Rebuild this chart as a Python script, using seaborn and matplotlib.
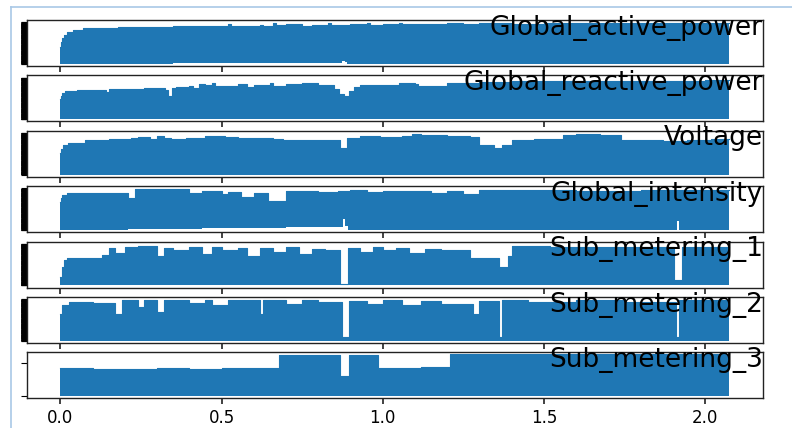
import numpy as np
import pandas as pd
import matplotlib
matplotlib.use("Agg")
import matplotlib.pyplot as plt
from matplotlib.lines import Line2D
import seaborn as sns

# ---------------- data ----------------
# x in millions of samples; panels 1-6 are categorical (percent of category range),
# panel 7 in watt-hours.
names = ["Global_active_power", "Global_reactive_power", "Voltage",
         "Global_intensity", "Sub_metering_1", "Sub_metering_2", "Sub_metering_3"]

gap_x = [0, 0.002, 0.005, 0.01, 0.02, 0.04, 0.07, 0.12, 0.18, 0.25, 0.35, 0.44, 0.52, 0.53,
         0.55, 0.62, 0.63, 0.66, 0.67, 0.70, 0.74, 0.75, 0.78, 0.83, 0.84, 0.86, 0.90, 0.95,
         0.96, 1.00, 1.05, 1.06, 1.08, 1.12, 1.20, 1.25, 1.30, 1.40, 1.50, 1.60, 1.70, 1.80,
         1.90, 2.00, 2.075]
gap_top = [41, 52, 62, 70, 77, 82, 85, 87, 89, 89, 90, 92, 95, 91, 92, 94, 90, 98, 93, 95,
           96, 92, 94, 98, 93, 94, 95, 97, 93, 95, 99, 95, 96, 96, 97, 95, 97, 96, 97, 98,
           97, 98, 98, 99, 99]
gap_low_x = [0, 0.866, 0.874, 0.882, 0.890, 2.075]
gap_low = [0, 3, 6, 4, 0, 0]

grp_x = [0, 0.002, 0.006, 0.015, 0.05, 0.10, 0.14, 0.15, 0.20, 0.26, 0.30, 0.325, 0.335,
         0.345, 0.36, 0.40, 0.41, 0.43, 0.45, 0.47, 0.48, 0.50, 0.55, 0.58, 0.60, 0.65,
         0.66, 0.70, 0.75, 0.80, 0.85, 0.865, 0.88, 0.895, 0.91, 0.93, 1.00, 1.05, 1.10,
         1.11, 1.20, 1.30, 1.40, 1.50, 1.60, 1.80, 2.00, 2.075]
grp_top = [48, 56, 64, 68, 70, 71, 66, 72, 72, 74, 75, 70, 56, 74, 78, 80, 74, 84, 82, 88,
           80, 80, 84, 78, 82, 86, 79, 84, 86, 83, 72, 60, 56, 68, 78, 82, 82, 86, 85, 80,
           86, 90, 92, 93, 93, 93, 94, 94]

volt_x = [0, 0.003, 0.008, 0.022, 0.075, 0.15, 0.22, 0.24, 0.277, 0.30, 0.32, 0.344, 0.39,
          0.45, 0.51, 0.55, 0.60, 0.66, 0.69, 0.75, 0.82, 0.868, 0.89, 0.93, 0.99, 1.06,
          1.09, 1.12, 1.20, 1.27, 1.30, 1.346, 1.369, 1.40, 1.47, 1.56, 1.60, 1.675, 1.74,
          1.80, 1.87, 1.945, 2.02, 2.075]
volt_top = [52, 62, 70, 76, 82, 86, 88, 90, 86, 92, 87, 85, 89, 93, 91, 87, 88, 85, 84, 82,
            84, 63, 88, 92, 90, 93, 98, 94, 92, 90, 70, 65, 72, 84, 86, 96, 97, 94, 82, 84,
            80, 84, 86, 86]

gi_x = [0, 0.002, 0.005, 0.02, 0.21, 0.23, 0.40, 0.44, 0.50, 0.52, 0.56, 0.60, 0.63, 0.645,
        0.70, 0.80, 0.86, 0.90, 0.95, 1.00, 1.06, 1.15, 1.20, 1.25, 1.30, 1.48, 1.60, 1.80,
        2.00, 2.075]
gi_top = [67, 76, 84, 88, 77, 98, 88, 93, 86, 92, 80, 90, 88, 69, 93, 91, 93, 95, 92, 94,
          93, 90, 94, 86, 97, 95, 94, 95, 95, 95]
gi_low_x = [0, 0.868, 0.876, 0.884, 0.892, 1.905, 1.912, 1.920, 2.075]
gi_low = [0, 8, 26, 10, 0, 0, 22, 0, 0]

s1_x = [0, 0.005, 0.01, 0.02, 0.13, 0.15, 0.17, 0.20, 0.24, 0.30, 0.32, 0.35, 0.40, 0.44,
        0.47, 0.50, 0.55, 0.58, 0.62, 0.66, 0.70, 0.74, 0.78, 0.82, 0.868, 0.893, 0.93,
        0.97, 1.00, 1.04, 1.08, 1.13, 1.18, 1.27, 1.36, 1.39, 1.40, 1.52, 1.70, 1.905,
        1.93, 2.075]
s1_top = [20, 45, 61, 65, 72, 90, 78, 91, 94, 70, 90, 84, 92, 76, 93, 86, 90, 70, 89, 80,
          91, 75, 88, 84, 3, 90, 80, 92, 85, 90, 78, 88, 84, 66, 44, 70, 95, 92, 92, 12,
          92, 92]

s2_x = [0, 0.005, 0.025, 0.10, 0.17, 0.19, 0.24, 0.26, 0.30, 0.32, 0.40, 0.45, 0.47, 0.52,
        0.62, 0.63, 0.70, 0.75, 0.80, 0.875, 0.895, 0.95, 1.00, 1.06, 1.12, 1.18, 1.28,
        1.30, 1.36, 1.37, 1.45, 1.60, 1.75, 1.91, 1.92, 2.075]
s2_top = [65, 87, 93, 90, 65, 97, 82, 97, 70, 97, 90, 97, 85, 97, 65, 97, 88, 97, 92, 8,
          96, 88, 97, 85, 96, 88, 65, 96, 8, 97, 92, 97, 94, 8, 97, 97]

s3_x = [0, 0.10, 0.20, 0.30, 0.40, 0.50, 0.60, 0.677, 0.75, 0.80, 0.868, 0.895, 0.94,
        0.985, 1.05, 1.12, 1.21, 1.40, 1.60, 1.80, 2.00, 2.075]
s3_top = [21.1, 20.3, 20.0, 20.6, 20.3, 20.6, 20.8, 30.5, 30.8, 30.3, 15.3, 30.5, 30.8,
          21.2, 21.0, 21.4, 31.0, 31.0, 31.0, 31.0, 31.0, 31.0]

tops = [(gap_x, gap_top), (grp_x, grp_top), (volt_x, volt_top), (gi_x, gi_top),
        (s1_x, s1_top), (s2_x, s2_top), (s3_x, s3_top)]
lows = {0: (gap_low_x, gap_low), 3: (gi_low_x, gi_low)}
xtick_vals = [0.0, 0.5, 1.0, 1.5, 2.0]
xtick_labels = ["0.0", "0.5", "1.0", "1.5", "2.0"]

# ---------------- drawing ----------------
BLUE = "#1f77b4"
plt.rcParams["font.family"] = ["DejaVu Sans"]
fig, axes = plt.subplots(7, 1, figsize=(7.92, 4.28), dpi=100, sharex=True)
fig.subplots_adjust(left=0.034, right=0.963, top=0.953, bottom=0.0694, hspace=0.207)

for i, (ax, name, (xs, ys)) in enumerate(zip(axes, names, tops)):
    df = pd.DataFrame({"x": xs, "y": ys})
    sns.lineplot(data=df, x="x", y="y", ax=ax, color=BLUE, lw=0.8,
                 drawstyle="steps-post", estimator=None, sort=False)
    top_s = pd.Series(ys, index=xs)
    if i in lows:
        lx, ly = lows[i]
        allx = np.union1d(xs, lx)
        hi = top_s.reindex(allx).ffill().values
        lo = pd.Series(ly, index=lx).reindex(allx).interpolate(method="index").values
        ax.fill_between(allx, lo, hi, step="post", color=BLUE, lw=0)
    else:
        ax.fill_between(xs, 0, ys, step="post", color=BLUE, lw=0)
    ax.set_xlabel("")
    ax.set_ylabel("")
    ax.set_title(name, loc="right", y=0.5, pad=6, fontsize=19)
    if i < 6:
        ax.set_ylim(-5, 105)
        ax.set_yticks(np.linspace(0, 100, 160))
    else:
        ax.set_ylim(-1.55, 32.55)
        ax.set_yticks([0, 25])
    ax.set_yticklabels([])
    ax.tick_params(axis="y", length=4, width=0.8, color="black")
    ax.tick_params(axis="x", length=4, width=1.3, pad=3.5, labelsize=12, color="#333333")
    for sp in ax.spines.values():
        sp.set_color("#222222")
        sp.set_linewidth(1.0)

axes[-1].set_xlim(-0.104, 2.179)
axes[-1].set_xticks(xtick_vals)
axes[-1].set_xticklabels(xtick_labels)

# notebook frame edges
fig.add_artist(Line2D([11 / 792, 1], [1 - 7 / 428, 1 - 7 / 428], transform=fig.transFigure,
                      color="#a9c8e6", lw=1.2))
fig.add_artist(Line2D([11 / 792, 11 / 792], [0, 1 - 7 / 428], transform=fig.transFigure,
                      color="#a9c8e6", lw=1.2))

fig.savefig("out.png", dpi=100)
